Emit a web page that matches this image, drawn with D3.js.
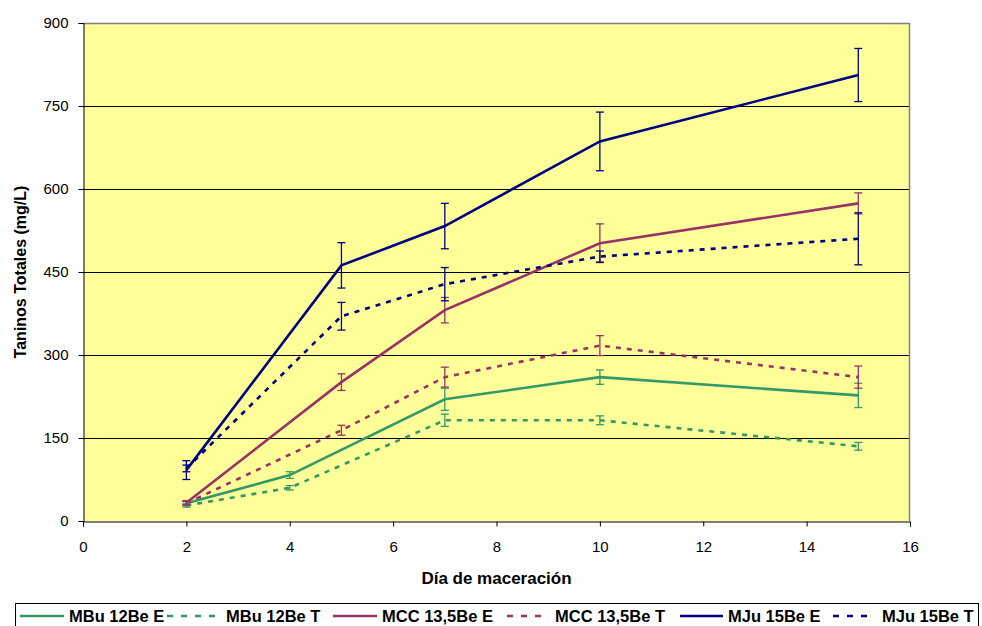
<!DOCTYPE html>
<html>
<head>
<meta charset="utf-8">
<script src="https://cdn.jsdelivr.net/npm/d3@7"></script>
<style>
  html, body { margin: 0; padding: 0; background: #fff; }
  svg { display: block; font-family: Arial, "Liberation Sans", sans-serif; }
</style>
</head>
<body>
<svg id="chart" width="982" height="626"></svg>
<script>
// Days of maceration sampled for each wine
const daysMBu = [2, 4, 7, 10, 15];
const daysOther = [2, 5, 7, 10, 15];

// Total tannins (mg/L) and their error margins
const mbuE = [32, 83, 220, 260, 227];
const mbuEerr = [4, 6, 20, 13, 22];
const mbuT = [28, 60, 182, 182, 135];
const mbuTerr = [3, 4, 11, 8, 7];
const mccE = [33, 251, 381, 502, 574];
const mccEerr = [4, 15, 23, 35, 19];
const mccT = [32, 164, 260, 317, 260];
const mccTerr = [3, 9, 18, 18, 20];
const mjuE = [92, 462, 533, 686, 806];
const mjuEerr = [17, 41, 41, 53, 48];
const mjuT = [95, 370, 428, 478, 510];
const mjuTerr = [6, 25, 30, 10, 47];

const seriesNames = ["MBu 12Be E", "MBu 12Be T", "MCC 13,5Be E", "MCC 13,5Be T", "MJu 15Be E", "MJu 15Be T"];
const xTicks = [0, 2, 4, 6, 8, 10, 12, 14, 16];
const yTicks = [0, 150, 300, 450, 600, 750, 900];

const green = "#339966", maroon = "#993366", navy = "#000080";

const series = [
  { name: seriesNames[0], x: daysMBu, y: mbuE, err: mbuEerr, color: green, dashed: false },
  { name: seriesNames[1], x: daysMBu, y: mbuT, err: mbuTerr, color: green, dashed: true },
  { name: seriesNames[2], x: daysOther, y: mccE, err: mccEerr, color: maroon, dashed: false },
  { name: seriesNames[3], x: daysOther, y: mccT, err: mccTerr, color: maroon, dashed: true },
  { name: seriesNames[4], x: daysOther, y: mjuE, err: mjuEerr, color: navy, dashed: false },
  { name: seriesNames[5], x: daysOther, y: mjuT, err: mjuTerr, color: navy, dashed: true }
];

const svg = d3.select("#chart");
const plotL = 83, plotR = 910, plotT = 23, plotB = 521;

const x = d3.scaleLinear().domain([0, 16]).range([plotL, plotR]);
const y = d3.scaleLinear().domain([0, 900]).range([plotB, plotT]);

// plot background
svg.append("rect")
  .attr("x", plotL).attr("y", plotT)
  .attr("width", plotR - plotL).attr("height", plotB - plotT)
  .attr("fill", "#FFFF99");

// horizontal gridlines
svg.append("g").selectAll("line")
  .data(yTicks.filter(d => d > 0 && d < 900))
  .join("line")
  .attr("x1", plotL).attr("x2", plotR)
  .attr("y1", d => Math.round(y(d)) + 0.5).attr("y2", d => Math.round(y(d)) + 0.5)
  .attr("stroke", "#000").attr("stroke-width", 1);

// plot frame (top and right)
svg.append("path")
  .attr("d", `M${plotL},${plotT + 0.5}H${plotR - 0.5}V${plotB}`)
  .attr("fill", "none").attr("stroke", "#808080").attr("stroke-width", 1.5);

// axes
const yAxis = d3.axisLeft(y).tickValues(yTicks).tickSize(5).tickPadding(10);
const xAxis = d3.axisBottom(x).tickValues(xTicks).tickSize(5).tickPadding(15);

const gy = svg.append("g").attr("transform", `translate(${plotL + 0.5},0)`).call(yAxis);
const gx = svg.append("g").attr("transform", `translate(0,${plotB + 0.5})`).call(xAxis);
[gx, gy].forEach(g => {
  g.select(".domain").attr("stroke", "#000");
  g.selectAll(".tick line").attr("stroke", "#000");
  g.selectAll(".tick text")
    .attr("fill", "#000")
    .attr("font-size", "15px")
    .attr("font-family", "Arial, 'Liberation Sans', sans-serif");
});

// axis titles
svg.append("text")
  .attr("x", (plotL + plotR) / 2).attr("y", 584)
  .attr("text-anchor", "middle")
  .attr("font-size", "17px").attr("font-weight", "bold")
  .text("Día de maceración");

svg.append("text")
  .attr("transform", `translate(26,${(plotT + plotB) / 2}) rotate(-90)`)
  .attr("text-anchor", "middle")
  .attr("font-size", "16px").attr("font-weight", "bold")
  .text("Taninos Totales (mg/L)");

// series lines
const line = d3.line().x(d => x(d[0])).y(d => y(d[1]));
const plot = svg.append("g");

series.forEach(s => {
  const pts = s.x.map((d, i) => [d, s.y[i]]);
  plot.append("path")
    .datum(pts)
    .attr("d", line)
    .attr("fill", "none")
    .attr("stroke", s.color)
    .attr("stroke-width", 2.6)
    .attr("stroke-dasharray", s.dashed ? "5,6" : null);
});

// error bars
series.forEach(s => {
  const g = plot.append("g").attr("stroke", s.color).attr("stroke-width", 1.3);
  s.x.forEach((d, i) => {
    const cx = x(d), y1 = y(s.y[i] + s.err[i]), y2 = y(s.y[i] - s.err[i]);
    g.append("line").attr("x1", cx).attr("x2", cx).attr("y1", y1).attr("y2", y2);
    g.append("line").attr("x1", cx - 4).attr("x2", cx + 4).attr("y1", y1).attr("y2", y1);
    g.append("line").attr("x1", cx - 4).attr("x2", cx + 4).attr("y1", y2).attr("y2", y2);
  });
});

// legend
svg.append("rect")
  .attr("x", 15.5).attr("y", 603.5)
  .attr("width", 963).attr("height", 30)
  .attr("fill", "#fff").attr("stroke", "#000").attr("stroke-width", 1);

const legendPos = [
  { sx: 20, ex: 64, tx: 69 },
  { sx: 167, ex: 217, tx: 226 },
  { sx: 333, ex: 377, tx: 382 },
  { sx: 507, ex: 547, tx: 555 },
  { sx: 680, ex: 723, tx: 728 },
  { sx: 833, ex: 873, tx: 882 }
];
const ly = 616;
series.forEach((s, i) => {
  const p = legendPos[i];
  svg.append("line")
    .attr("x1", p.sx).attr("x2", p.ex).attr("y1", ly).attr("y2", ly)
    .attr("stroke", s.color).attr("stroke-width", 2.6)
    .attr("stroke-dasharray", s.dashed ? "6,8" : null);
  svg.append("text")
    .attr("x", p.tx).attr("y", ly + 6)
    .attr("font-size", "16.5px").attr("font-weight", "bold")
    .text(s.name);
});
</script>
</body>
</html>
